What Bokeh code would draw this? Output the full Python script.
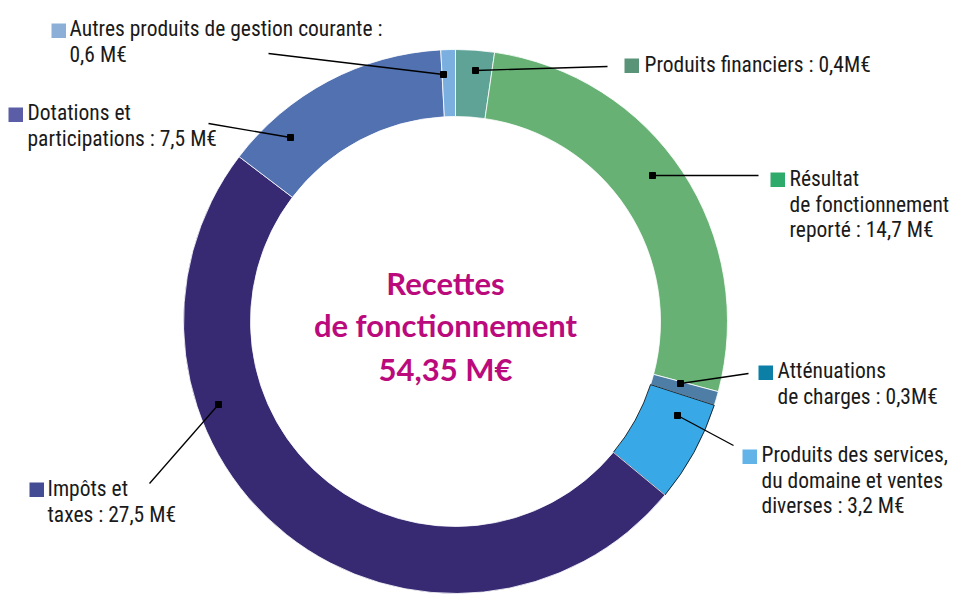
import math
from bokeh.plotting import figure
from bokeh.models import Range1d, ColumnDataSource
from bokeh.core.properties import value
from bokeh.embed import file_html
from bokeh.resources import INLINE

# ---------------- data ----------------
categories = [
    "Produits financiers",
    "Résultat de fonctionnement reporté",
    "Atténuations de charges",
    "Produits des services, du domaine et ventes diverses",
    "Impôts et taxes",
    "Dotations et participations",
    "Autres produits de gestion courante",
]
label_values = [0.4, 14.7, 0.3, 3.2, 27.5, 7.5, 0.6]          # M€, as printed
slice_shares = [1.25, 14.6, 0.45, 3.28, 26.83, 7.49, 0.47]     # M€, slice sizes as drawn
total_text = ["Recettes", "de fonctionnement", "54,35 M€"]

slice_colors = ["#5FA397", "#68B174", "#4E7DA5", "#38A8E6", "#372A73", "#5171B0", "#7AAFE0"]
legend_colors = ["#5A9478", "#2EAA6A", "#0B7FA6", "#62B3E8", "#444C94", "#5B5EA6", "#8BAFD6"]
slice_lines = ["white", "white", "white", "black", "white", "white", "white"]

label_lines = [
    ["Produits financiers : 0,4M€"],
    ["Résultat", "de fonctionnement", "reporté : 14,7 M€"],
    ["Atténuations", "de charges : 0,3M€"],
    ["Produits des services,", "du domaine et ventes", "diverses : 3,2 M€"],
    ["Impôts et", "taxes : 27,5 M€"],
    ["Dotations et", "participations : 7,5 M€"],
    ["Autres produits de gestion courante :", "0,6 M€"],
]

# ---------------- layout (page pixels) ----------------
CX, CY = 455, 321
R_IN, R_OUT = 205, 272
TXT_SHIFT = 10
# legend square top-left, text x, first baseline
legend_pos = [
    (624, 58, 644, 74),
    (770, 172, 789, 188),
    (758, 365, 777, 380),
    (742, 449, 761, 464),
    (29, 482, 47, 498),
    (8, 107, 27, 122),
    (51, 23, 69, 38),
]
line_step = 25.5
# leader: anchor in slice -> end near label
leaders = [
    ((475, 70), (607, 66)),
    ((652, 175), (758, 175)),
    ((680, 383), (748, 373)),
    ((677, 415), (733, 445)),
    ((218, 404), (149, 483)),
    ((290, 137), (208, 123)),
    ((443, 74), (268, 53)),
]

FONT = "Roboto Condensed"

W, H = 954, 594
p = figure(width=W, height=H, output_backend="svg", toolbar_location=None,
           x_range=Range1d(0, W), y_range=Range1d(-H, 0),
           x_axis_type=None, y_axis_type=None, min_border=0)
p.grid.visible = False
p.outline_line_color = None
p.background_fill_color = "white"
p.border_fill_color = "white"

# wedges
total = sum(slice_shares)
starts, ends = [], []
acc = 0.0
for v in slice_shares:
    starts.append(math.pi / 2 - 2 * math.pi * acc / total)
    acc += v
    ends.append(math.pi / 2 - 2 * math.pi * acc / total)

src = ColumnDataSource(dict(cat=categories, val=label_values, start=starts, end=ends,
                            color=slice_colors, lc=slice_lines))
p.annular_wedge(x=CX, y=-CY, inner_radius=R_IN, outer_radius=R_OUT,
                start_angle="start", end_angle="end", direction="clock",
                fill_color="color", line_color="lc", line_width=0.8, source=src)

# leaders
for (a, b) in leaders:
    p.line([a[0], b[0]], [-a[1], -b[1]], line_color="black", line_width=1.3)
p.scatter([a[0] for a, b in leaders], [-a[1] for a, b in leaders], marker="square",
          size=6, fill_color="black", line_color="black")

# legend squares and labels
for (sx, sy, tx, ty), col, lines in zip(legend_pos, legend_colors, label_lines):
    p.quad(left=sx, right=sx + 14.5, top=-sy, bottom=-(sy + 14.5),
           fill_color=col, line_color=None)
    p.text(x=[tx] * len(lines),
           y=[-(ty - TXT_SHIFT + i * line_step) for i in range(len(lines))],
           text=lines, text_font=value(FONT), text_font_size="21.5px",
           text_color="#1a1a1a", text_baseline="alphabetic", text_align="left")

# centre text
p.text(x=[445] * 3, y=[-282, -324, -368], text=total_text,
       text_font=value("Lato"), text_font_style="bold", text_font_size="31px",
       text_color="#BA0A7C", text_align="center", text_baseline="alphabetic")

open("out.html", "w").write(file_html(p, INLINE))
